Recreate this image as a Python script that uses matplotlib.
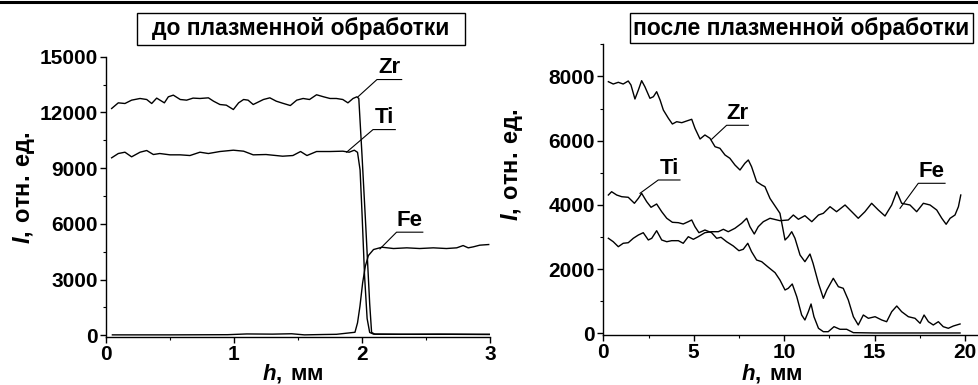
import matplotlib
matplotlib.use("Agg")
import matplotlib.pyplot as plt
from matplotlib.patches import Rectangle
from matplotlib.lines import Line2D
from matplotlib.ticker import MultipleLocator

plt.rcParams['font.family'] = ['Liberation Sans', 'DejaVu Sans']
plt.rcParams['font.weight'] = 'bold'
plt.rcParams['mathtext.fontset'] = 'custom'
plt.rcParams['mathtext.it'] = 'Liberation Sans:italic:bold'
plt.rcParams['mathtext.bf'] = 'Liberation Sans:bold'
plt.rcParams['mathtext.rm'] = 'Liberation Sans:bold'

W, H = 979, 385

# ---- left panel: before plasma treatment ----
zr1_h = [0.044, 0.096, 0.148, 0.2, 0.266, 0.318, 0.357, 0.396, 0.456, 0.487, 0.526, 0.58,
         0.63, 0.68, 0.734, 0.8, 0.84, 0.89, 0.94, 0.995, 1.036, 1.075, 1.11, 1.15, 1.23,
         1.28, 1.33, 1.38, 1.44, 1.49, 1.54, 1.59, 1.645, 1.7, 1.75, 1.8, 1.85, 1.89, 1.93,
         1.96, 1.975, 2.0, 2.03, 2.06, 2.075, 2.1, 2.3, 2.6, 2.9, 3.0]
zr1_I = [12210, 12515, 12480, 12660, 12750, 12695, 12480, 12770, 12515, 12840, 12930, 12695,
         12660, 12770, 12750, 12785, 12605, 12425, 12390, 12155, 12515, 12695, 12660, 12425, 12695,
         12785, 12605, 12495, 12370, 12660, 12750, 12695, 12950, 12840, 12750, 12750, 12695, 12515, 12750,
         12840, 12750, 9700, 5800, 1700, 150, 60, 50, 60, 50, 50]

ti1_h = [0.044, 0.096, 0.148, 0.2, 0.266, 0.318, 0.37, 0.42, 0.5, 0.58, 0.656, 0.734,
         0.8, 0.89, 0.995, 1.075, 1.15, 1.25, 1.38, 1.46, 1.52, 1.57, 1.645, 1.75, 1.85,
         1.9, 1.94, 1.965, 1.985, 2.0, 2.02, 2.04, 2.06, 2.09, 2.4, 2.7, 3.0]
ti1_I = [9555, 9786, 9857, 9608, 9857, 9948, 9732, 9786, 9715, 9715, 9678, 9857,
         9786, 9894, 9965, 9912, 9715, 9732, 9642, 9678, 9894, 9678, 9894, 9894, 9912,
         9857, 9965, 9850, 8900, 6600, 3200, 900, 150, 60, 50, 50, 40]

fe1_h = [0.05, 0.5, 0.95, 1.1, 1.3, 1.45, 1.55, 1.7, 1.8, 1.945, 1.965, 1.984, 2.005, 2.026,
         2.05, 2.09, 2.156, 2.246, 2.35, 2.45, 2.557, 2.66, 2.74, 2.79, 2.83, 2.87, 2.92, 2.99]
fe1_I = [20, 20, 30, 70, 60, 80, 20, 40, 50, 160, 668, 1560, 2820, 3716,
         4292, 4616, 4740, 4670, 4707, 4670, 4707, 4670, 4707, 4830, 4707, 4761, 4850, 4885]

# ---- right panel: after plasma treatment ----
zr2_h = [0.28, 0.55, 0.83, 1.1, 1.38, 1.53, 1.75, 1.94, 2.12, 2.3, 2.58, 2.77, 2.95, 3.14,
         3.32, 3.6, 3.82, 4.06, 4.34, 4.61, 4.89, 5.07, 5.35, 5.62, 5.9, 6.18, 6.45, 6.73,
         7.0, 7.28, 7.56, 7.83, 8.02, 8.2, 8.48, 8.76, 8.94, 9.22, 9.77, 10.05, 10.23, 10.42,
         10.6, 10.88, 11.15, 11.43, 11.6, 11.9, 12.17, 12.36, 12.72, 13.0, 13.27, 13.55, 13.83,
         14.1, 14.38, 14.66, 15.03, 15.4, 15.67, 15.95, 16.23, 16.5, 16.87, 17.24, 17.52, 17.74,
         17.98, 18.25, 18.53, 18.8, 19.08, 19.36, 19.73]
zr2_I = [7838, 7766, 7819, 7766, 7860, 7735, 7299, 7580, 7870, 7682, 7321, 7371, 7527, 7268,
         6956, 6698, 6520, 6592, 6561, 6614, 6667, 6386, 6053, 6178, 6075, 5813, 5763, 5555,
         5452, 5243, 5087, 5296, 5399, 5190, 4723, 4620, 4567, 4200, 3738, 2906, 3009, 3165,
         2960, 2439, 2231, 2470, 2181, 1558, 1090, 1349, 1713, 1452, 1402, 1037, 517,
         259, 570, 467, 517, 414, 361, 673, 850, 673, 517, 467, 311, 570,
         361, 259, 361, 206, 156, 227, 290]

ti2_h = [0.28, 0.46, 0.74, 1.02, 1.38, 1.72, 1.94, 2.12, 2.4, 2.64, 2.95, 3.23, 3.51, 3.82,
         4.15, 4.42, 4.7, 4.89, 5.07, 5.29, 5.62, 5.99, 6.27, 6.51, 6.82, 7.19, 7.5, 7.74,
         7.99, 8.2, 8.48, 8.76, 9.13, 9.5, 9.77, 10.05, 10.23, 10.45, 10.7, 10.97, 11.15, 11.34,
         11.49, 11.65, 11.9, 12.17, 12.44, 12.76, 13.09, 13.46, 13.83, 15.0, 17.0, 19.73]
ti2_I = [4308, 4411, 4308, 4255, 4237, 4050, 4205, 4361, 4100, 3925, 4028, 3788, 3583, 3458,
         3446, 3405, 3477, 3530, 3321, 3134, 3218, 3134, 2960, 2991, 2853, 2720, 2573, 2617,
         2804, 2542, 2283, 2231, 2056, 1888, 1660, 1349, 1402, 1536, 1140, 570, 414, 673,
         913, 517, 156, 50, 50, 206, 125, 125, 20, 10, 10, 10]

fe2_h = [0.28, 0.55, 0.83, 1.1, 1.38, 1.66, 1.94, 2.21, 2.49, 2.68, 2.95, 3.23, 3.51, 3.78,
         4.15, 4.42, 4.7, 4.98, 5.25, 5.62, 5.99, 6.36, 6.64, 6.91, 7.28, 7.65, 7.93, 8.11,
         8.35, 8.57, 8.85, 9.22, 9.77, 10.23, 10.51, 10.79, 11.15, 11.53, 11.9, 12.17, 12.54,
         12.9, 13.37, 13.74, 14.1, 14.47, 14.84, 15.21, 15.58, 15.95, 16.23, 16.5, 16.96, 17.33,
         17.7, 18.07, 18.44, 18.72, 18.96, 19.18, 19.45, 19.64, 19.77]
fe2_I = [2960, 2853, 2698, 2804, 2822, 2960, 3062, 3134, 2907, 2960, 3196, 2907, 2853, 2885,
         2885, 2804, 3009, 2928, 3009, 3134, 3165, 3165, 3240, 3165, 3271, 3427, 3583, 3321,
         3093, 3321, 3477, 3583, 3508, 3530, 3685, 3552, 3664, 3477, 3685, 3738, 3944,
         3788, 3997, 3788, 3583, 3788, 4050, 3841, 3654, 3997, 4411, 4050, 3997, 3788,
         4050, 3997, 3841, 3583, 3396, 3583, 3685, 3944, 4308]

# curve labels: name, point on curve, knee of leader, end of underline
labels = ['Zr', 'Ti', 'Fe']
left_tip = [(1.97, 12850), (1.88, 9860), (2.14, 4650)]
left_knee = [(2.117, 13770), (2.086, 11075), (2.27, 5550)]
left_end = [2.31, 2.26, 2.475]
right_tip = [(5.99, 6044), (2.03, 4361), (16.41, 3894)]
right_knee = [(6.82, 6480), (3.04, 4776), (17.42, 4673)]
right_end = [8.02, 4.24, 18.9]


def px_axes(l, t, r, b):
    return [l / W, 1 - b / H, (r - l) / W, (b - t) / H]


def style(ax):
    for s in ['top', 'right']:
        ax.spines[s].set_visible(False)
    for s in ['left', 'bottom']:
        ax.spines[s].set_linewidth(1.0)
    ax.tick_params(which='major', direction='out', length=4, width=1, labelsize=15, pad=2)
    ax.tick_params(which='minor', direction='out', length=2.5, width=0.8)


def put_labels(ax, tips, knees, ends):
    for name, (x0, y0), (x1, y1), x2 in zip(labels, tips, knees, ends):
        ax.plot([x0, x1, x2], [y0, y1, y1], color='black', lw=0.8, clip_on=False)
        ax.annotate(name, ((x1 + x2) / 2, y1), xytext=(0, 1), textcoords='offset points',
                    ha='center', va='bottom', fontsize=16, fontweight='bold')


xlab = r'$h\mathbf{,\:мм}$'
ylab = r'$I\mathbf{,\:отн.\:ед.}$'

fig = plt.figure(figsize=(W / 100, H / 100), dpi=100)

ax1 = fig.add_axes(px_axes(106, 56.7, 490, 337.1))
for h, I in [(zr1_h, zr1_I), (ti1_h, ti1_I), (fe1_h, fe1_I)]:
    ax1.plot(h, I, color='black', lw=1.0)
ax1.set_xlim(0, 3)
ax1.set_ylim(-100, 15000)
ax1.xaxis.set_major_locator(MultipleLocator(1))
ax1.xaxis.set_minor_locator(MultipleLocator(0.5))
ax1.yaxis.set_major_locator(MultipleLocator(3000))
ax1.yaxis.set_minor_locator(MultipleLocator(1500))
style(ax1)
put_labels(ax1, left_tip, left_knee, left_end)
ax1.set_xlabel(xlab, fontsize=16)
ax1.set_ylabel(ylab, fontsize=17)
ax1.xaxis.set_label_coords(0.487, -0.09)
ax1.yaxis.set_label_coords(-0.18, 0.534)

ax2 = fig.add_axes(px_axes(603.3, 44.4, 979.4, 334.9))
for h, I in [(zr2_h, zr2_I), (ti2_h, ti2_I), (fe2_h, fe2_I)]:
    ax2.plot(h, I, color='black', lw=1.0)
ax2.set_xlim(0, 20.8)
ax2.set_ylim(-50, 9000)
ax2.xaxis.set_major_locator(MultipleLocator(5))
ax2.xaxis.set_minor_locator(MultipleLocator(2.5))
ax2.yaxis.set_major_locator(MultipleLocator(2000))
ax2.yaxis.set_minor_locator(MultipleLocator(1000))
style(ax2)
put_labels(ax2, right_tip, right_knee, right_end)
ax2.set_xlabel(xlab, fontsize=16)
ax2.set_ylabel(ylab, fontsize=17)
ax2.xaxis.set_label_coords(0.448, -0.094)
ax2.yaxis.set_label_coords(-0.208, 0.585)

# boxed titles
for (l, t, r, b), title in [((137, 13, 465, 45), 'до плазменной обработки'),
                            ((630, 13, 973, 43), 'после плазменной обработки')]:
    fig.add_artist(Rectangle((l / W, 1 - b / H), (r - l) / W, (b - t) / H,
                             transform=fig.transFigure, fill=False, lw=1.0, ec='black'))
    fig.text((l + r) / 2 / W, 1 - (t + b) / 2 / H, title, ha='center', va='center',
             fontsize=16.5, fontweight='bold')

# thick rule at the top
fig.add_artist(Line2D([0, 1], [1 - 1.5 / H, 1 - 1.5 / H], transform=fig.transFigure,
                      color='black', lw=2.2))

fig.savefig('out.png', dpi=100)
